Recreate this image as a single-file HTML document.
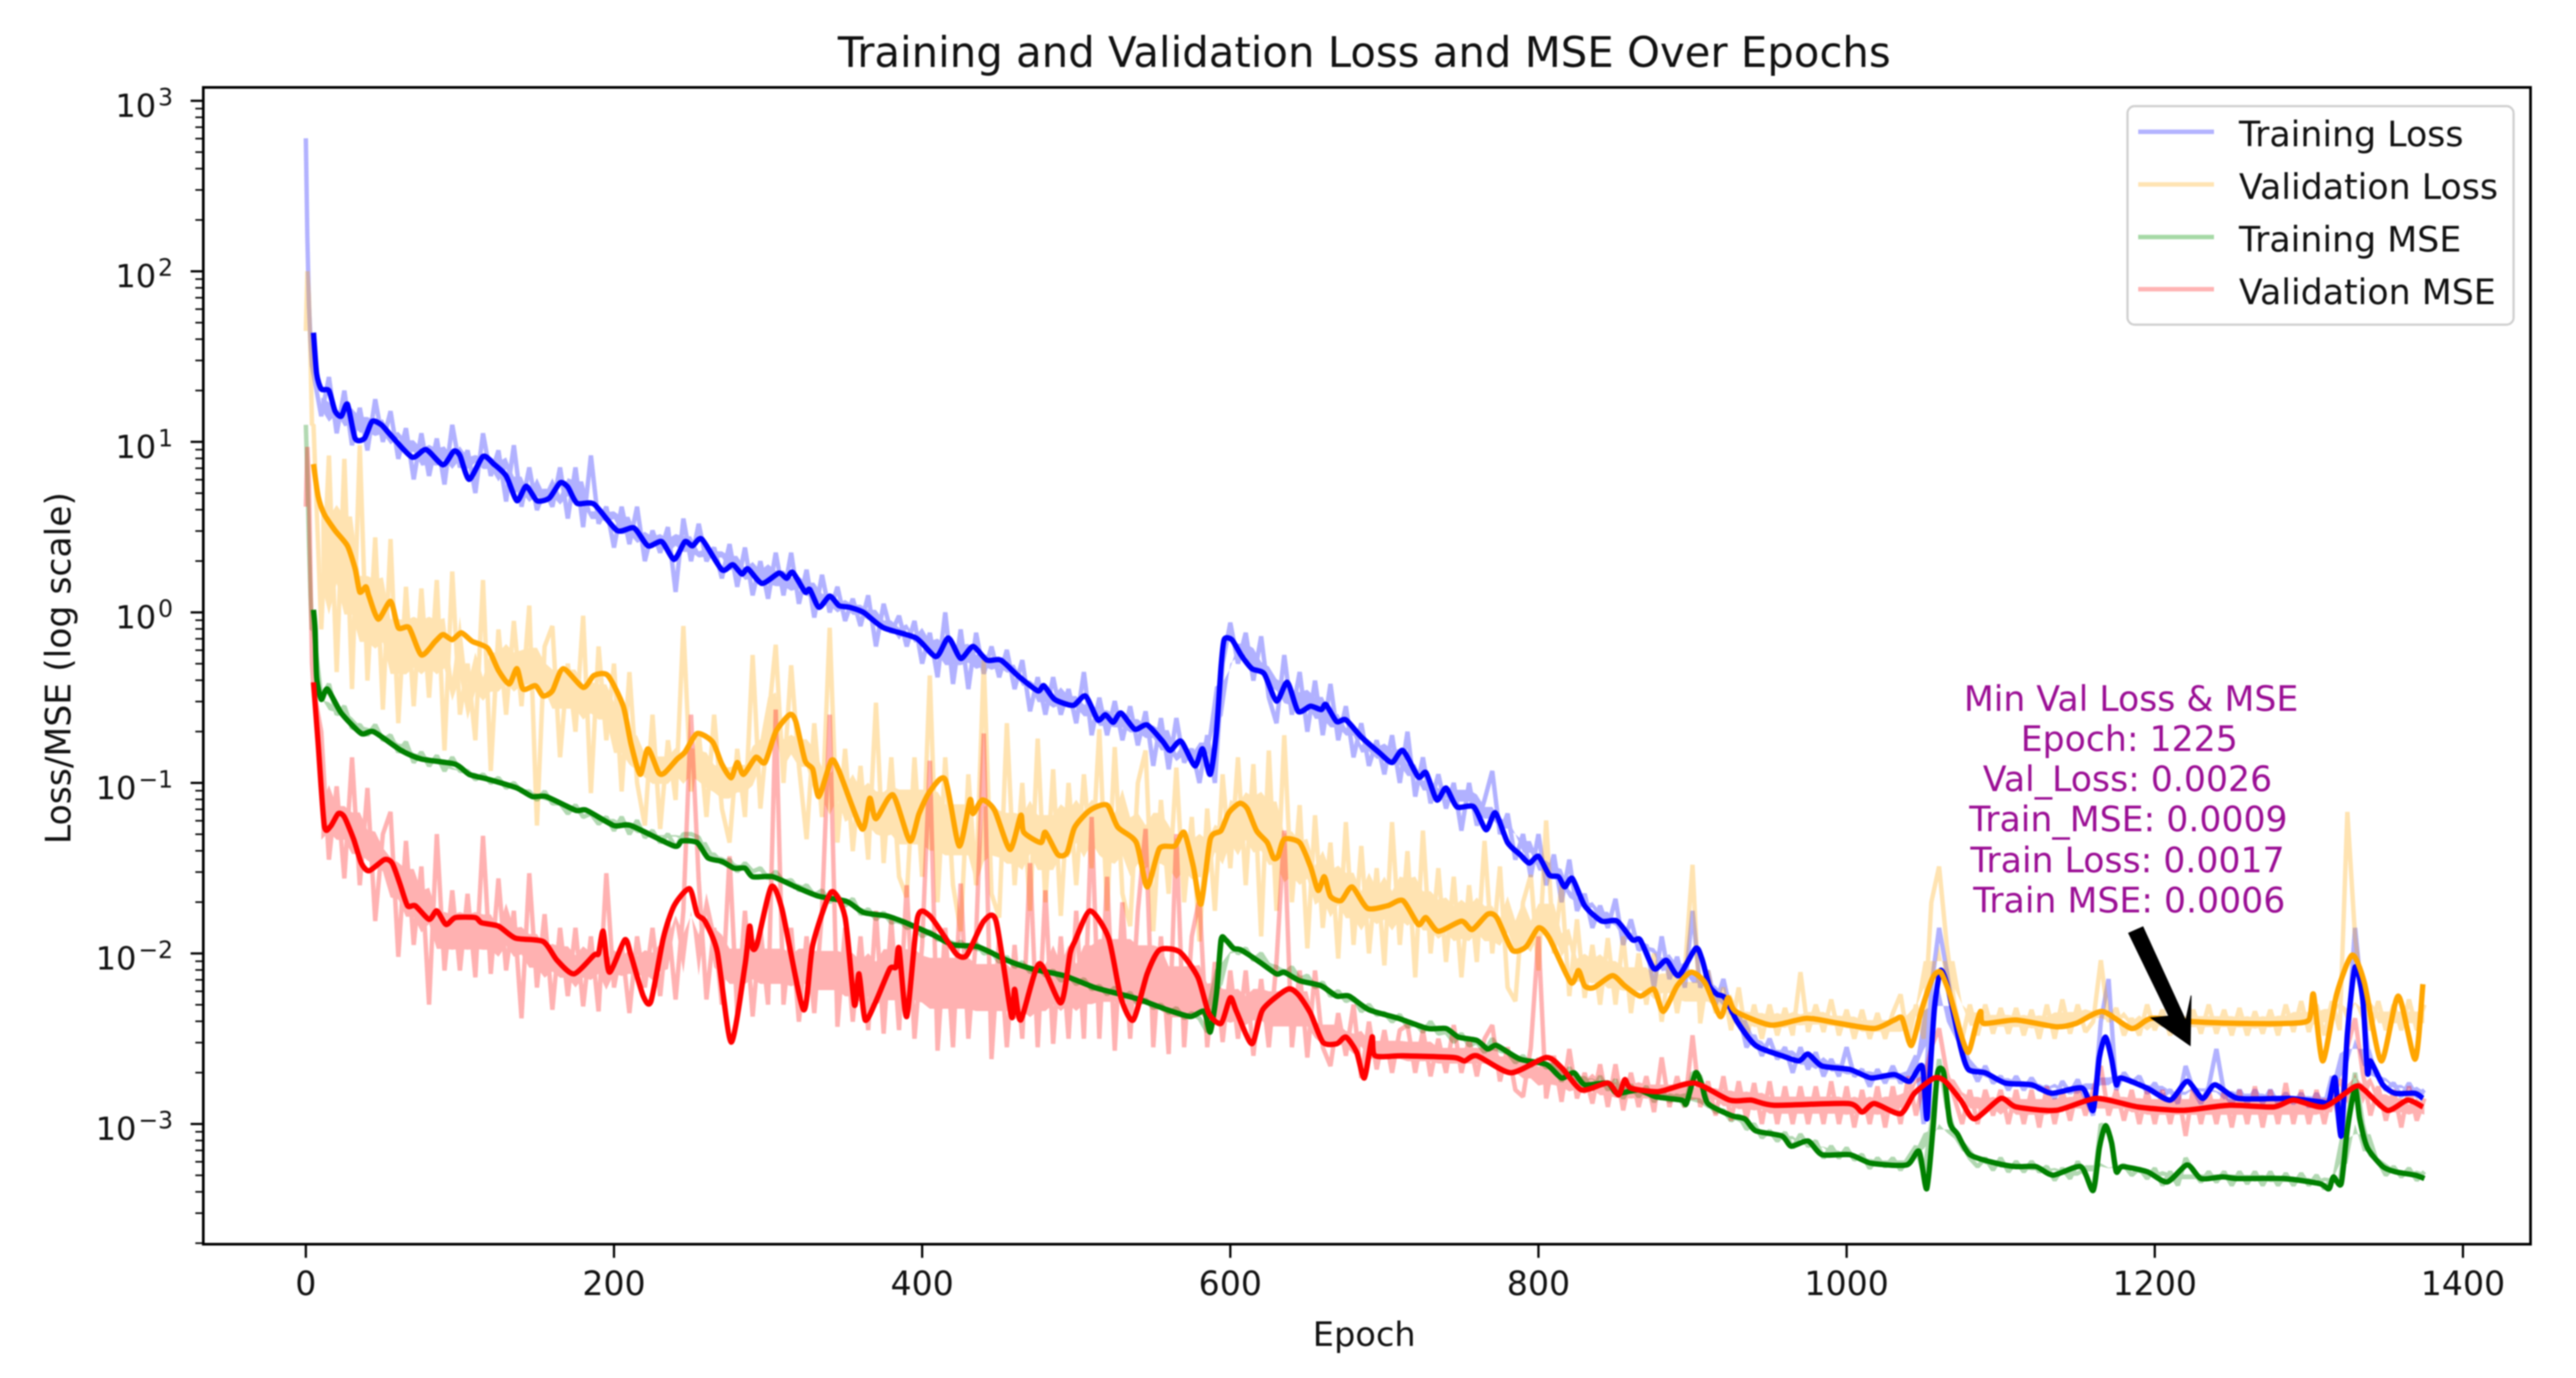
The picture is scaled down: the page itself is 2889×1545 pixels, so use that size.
<!DOCTYPE html>
<html lang="en">
<head>
<meta charset="utf-8">
<title>Training and Validation Loss and MSE Over Epochs</title>
<style>
html,body{margin:0;padding:0;background:#fff;}
svg{display:block;filter:blur(0.8px);font-family:"DejaVu Sans","Liberation Sans",sans-serif;}
</style>
</head>
<body>
<svg id="chart" xmlns="http://www.w3.org/2000/svg" width="2889" height="1545" viewBox="0 0 2889 1545">
<defs><clipPath id="plot-clip"><rect x="228" y="98" width="2610" height="1297"/></clipPath></defs>
<rect x="0" y="0" width="2889" height="1545" fill="#fff"/>
<text x="1530" y="75" font-size="46.9" text-anchor="middle" fill="#111">Training and Validation Loss and MSE Over Epochs</text>
<text x="1530" y="1509" font-size="37.7" text-anchor="middle" fill="#111">Epoch</text>
<text x="0" y="0" transform="translate(79,749) rotate(-90)" font-size="38.8" text-anchor="middle" fill="#111">Loss/MSE (log scale)</text>
<g id="raw" clip-path="url(#plot-clip)"></g>
<g id="smooth" clip-path="url(#plot-clip)"></g>
<g id="axes"></g>
<g font-size="38.9" text-anchor="middle" fill="#9b0f95">
<text x="2390" y="797">Min Val Loss &amp; MSE</text>
<text x="2388" y="842">Epoch: 1225</text>
<text x="2386" y="887">Val_Loss: 0.0026</text>
<text x="2387" y="932">Train_MSE: 0.0009</text>
<text x="2386" y="978">Train Loss: 0.0017</text>
<text x="2388" y="1023">Train MSE: 0.0006</text>
</g>
<polygon id="arrow" fill="#000" stroke="#000" stroke-width="1"/>
<g>
<rect x="2386" y="119" width="433" height="245" rx="8" ry="8" fill="#fff" fill-opacity="0.8" stroke="#d0d0d0" stroke-width="2.5"/>
<line x1="2398" x2="2483" y1="147.7" y2="147.7" stroke="#b3b3ff" stroke-width="5"/>
<text x="2511" y="164" font-size="39" fill="#111">Training Loss</text>
<line x1="2398" x2="2483" y1="206.7" y2="206.7" stroke="#ffe4b3" stroke-width="5"/>
<text x="2511" y="223" font-size="39" fill="#111">Validation Loss</text>
<line x1="2398" x2="2483" y1="265.7" y2="265.7" stroke="#a6d9a6" stroke-width="5"/>
<text x="2511" y="282" font-size="39" fill="#111">Training MSE</text>
<line x1="2398" x2="2483" y1="324.3" y2="324.3" stroke="#ffb3b3" stroke-width="5"/>
<text x="2511" y="341" font-size="39" fill="#111">Validation MSE</text>
</g>
</svg>
<script>
// All series values are log10(loss). Raw series: epochs 0,1,2,3,4 then every 5 epochs from 5 to 1375.
const rawStart = [0,1,2,3,4];
const trainLossRaw = [2.78,2.2,1.8,1.6,1.45,
1.4,1.15,1.38,1.05,1.3,.98,1.2,.95,1.25,1.0,1.18,.9,1.08,.78,1.05,.8,1.02,.75,1.1,.85,
.95,.7,1.05,.8,.95,.65,.98,.62,.85,.6,.72,.62,.85,.55,.85,.5,.92,.52,.62,.38,
.62,.4,.62,.3,.48,.35,.5,.12,.55,.3,.52,.3,.38,.2,.4,.15,.38,.1,.3,.08,
.35,.1,.35,.05,.25,-.03,.22,0,.15,-.05,.08,-.08,.1,-.2,.05,-.12,-.02,-.2,-.05,-.3,
-.12,-.38,0,-.42,-.1,-.45,-.12,-.36,-.2,-.38,-.22,-.45,-.28,-.58,-.38,-.6,-.38,-.6,-.45,-.65,
-.35,-.72,-.5,-.72,-.52,-.75,-.55,-.78,-.58,-.9,-.62,-.92,-.62,-.88,-.8,-1.0,-.72,-1.0,-.3,-.06,
-.3,-.12,-.4,-.14,-.5,-.65,-.25,-.6,-.35,-.7,-.4,-.72,-.42,-.75,-.55,-.85,-.65,-.9,-.75,-.95,
-.72,-1.0,-.7,-1.08,-.85,-1.12,-.95,-1.15,-1.0,-1.28,-1.0,-1.25,-1.1,-.93,-1.3,-1.18,-1.45,-1.3,-1.55,-1.3,
-1.6,-1.42,-1.7,-1.45,-1.75,-1.65,-1.85,-1.72,-1.85,-1.68,-1.95,-1.8,-1.98,-1.95,-2.2,-1.9,-2.15,-2.02,-2.2,-1.75,
-2.2,-2.1,-2.3,-2.15,-2.35,-2.35,-2.55,-2.48,-2.6,-2.5,-2.62,-2.55,-2.7,-2.55,-2.68,-2.58,-2.72,-2.62,-2.72,-2.55,
-2.72,-2.68,-2.78,-2.68,-2.76,-2.66,-2.76,-2.7,-2.6,-3.0,-2.2,-1.85,-2.1,-2.4,-2.6,-2.65,-2.75,-2.66,-2.76,-2.72,
-2.8,-2.72,-2.8,-2.73,-2.8,-2.78,-2.85,-2.75,-2.82,-2.74,-2.85,-2.95,-2.4,-2.15,-2.8,-2.7,-2.76,-2.72,-2.82,-2.76,
-2.84,-2.8,-2.88,-2.66,-2.8,-2.88,-2.78,-2.56,-2.82,-2.88,-2.8,-2.88,-2.8,-2.88,-2.8,-2.88,-2.82,-2.88,-2.82,-2.9,
-2.82,-2.9,-2.72,-3.05,-2.5,-1.85,-2.3,-2.7,-2.72,-2.8,-2.76,-2.84,-2.76,-2.84,-2.8];
const valLossRaw = [1.65,2.0,1.85,1.5,1.1,
1.1,-.1,.92,-.35,.9,-.45,.98,-.4,.44,-.57,.43,-.65,.15,-.55,.14,-.5,.19,-.81,.24,-.6,
-.3,-.75,.19,-.93,-.1,-.6,-.05,-.55,.04,-1.25,-.2,-.08,-.85,-.3,-.7,-.02,-1.06,-.2,-.75,-.3,
-1.05,-.35,-1.0,-1.25,-.6,-1.27,-.75,-1.1,-.08,-1.05,-.7,-1.2,-.6,-1.15,-1.35,-.8,-1.2,-.25,-1.15,-.65,
-.19,-1.0,-.31,-.9,-1.33,-.65,-1.2,-.09,-1.35,-.8,-1.4,-.9,-1.45,-.53,-1.47,-.85,-1.55,-1.67,-.85,-1.55,
-.37,-1.7,-.85,-1.6,-1.87,-.95,-1.6,-.28,-1.65,-1.79,-.65,-1.6,-1.0,-1.75,-.74,-1.7,-.92,-1.78,-1.0,-1.6,
-.95,-1.5,-.685,-1.75,-.79,-1.65,-1.84,-1.0,-.81,-1.87,-1.1,-1.65,-.91,-1.7,-1.2,-1.93,-1.15,-1.75,-.95,-1.5,
-.85,-1.6,-.89,-1.9,-.81,-1.75,-.72,-1.7,-1.13,-1.97,-1.19,-1.85,-1.35,-2.03,-1.23,-1.95,-1.37,-2.0,-1.5,-2.07,
-1.23,-1.95,-1.4,-2.14,-1.28,-2.0,-1.5,-2.05,-1.55,-2.14,-1.6,-2.05,-1.34,-2.0,-1.49,-2.2,-2.28,-1.7,-1.54,-2.1,
-1.22,-2.0,-1.6,-2.25,-1.8,-2.26,-1.95,-2.3,-1.91,-2.3,-1.9,-2.35,-2.0,-2.3,-2.0,-2.4,-2.05,-2.35,-2.1,-1.48,
-2.41,-2.1,-2.35,-2.2,-2.45,-2.2,-2.5,-2.3,-2.5,-2.3,-2.48,-2.32,-2.48,-2.11,-2.46,-2.3,-2.46,-2.27,-2.48,-2.33,
-2.5,-2.33,-2.5,-2.35,-2.5,-2.35,-2.24,-2.52,-2.3,-2.5,-1.7,-1.49,-1.95,-2.3,-2.5,-2.3,-2.48,-2.3,-2.47,-2.32,
-2.47,-2.32,-2.48,-2.33,-2.5,-2.3,-2.5,-2.27,-2.47,-2.3,-2.46,-2.4,-2.04,-2.4,-2.32,-2.48,-2.38,-2.48,-2.3,-2.45,
-2.33,-2.48,-2.32,-2.47,-2.33,-2.47,-2.3,-2.47,-2.33,-2.48,-2.32,-2.48,-2.34,-2.47,-2.33,-2.48,-2.3,-2.46,-2.28,-2.46,
-2.3,-2.48,-2.28,-2.45,-1.17,-1.9,-2.3,-2.45,-2.28,-2.45,-2.3,-2.45,-2.27,-2.45,-2.3];
const trainMseRaw = [1.1,.8,.4,.1,-.1,
-.1,-.5,-.42,-.6,-.55,-.68,-.66,-.72,-.66,-.75,-.72,-.82,-.76,-.88,-.82,-.9,-.84,-.93,-.85,-.93,
-.93,-.98,-.95,-1.0,-.97,-1.03,-1.0,-1.05,-1.05,-1.1,-1.05,-1.12,-1.12,-1.18,-1.13,-1.2,-1.18,-1.24,-1.2,-1.28,
-1.2,-1.3,-1.22,-1.32,-1.28,-1.35,-1.3,-1.38,-1.3,-1.3,-1.32,-1.42,-1.42,-1.47,-1.45,-1.52,-1.47,-1.52,-1.5,-1.56,
-1.52,-1.58,-1.57,-1.63,-1.6,-1.66,-1.63,-1.7,-1.66,-1.72,-1.68,-1.77,-1.74,-1.8,-1.76,-1.82,-1.8,-1.85,-1.84,-1.9,
-1.87,-1.92,-1.9,-1.97,-1.93,-1.98,-1.94,-2.0,-1.99,-2.05,-2.02,-2.08,-2.05,-2.11,-2.08,-2.13,-2.1,-2.16,-2.13,-2.18,
-2.15,-2.21,-2.19,-2.24,-2.2,-2.26,-2.23,-2.3,-2.27,-2.32,-2.3,-2.35,-2.32,-2.38,-2.35,-2.38,-2.46,-2.26,-1.9,-1.94,
-2.0,-1.97,-2.04,-2.0,-2.07,-2.08,-2.12,-2.08,-2.15,-2.13,-2.2,-2.17,-2.25,-2.22,-2.28,-2.26,-2.34,-2.3,-2.36,-2.35,
-2.4,-2.36,-2.43,-2.41,-2.46,-2.4,-2.47,-2.46,-2.52,-2.47,-2.54,-2.52,-2.58,-2.5,-2.57,-2.58,-2.64,-2.6,-2.66,-2.62,
-2.67,-2.65,-2.75,-2.67,-2.74,-2.73,-2.8,-2.72,-2.8,-2.74,-2.85,-2.77,-2.84,-2.78,-2.87,-2.8,-2.87,-2.83,-2.9,-2.7,
-2.72,-2.88,-2.93,-2.92,-2.98,-2.95,-3.03,-3.0,-3.08,-3.04,-3.1,-3.05,-3.14,-3.06,-3.13,-3.1,-3.2,-3.13,-3.2,-3.14,
-3.21,-3.18,-3.26,-3.2,-3.25,-3.2,-3.27,-3.2,-3.13,-3.3,-3.0,-2.62,-2.9,-3.05,-3.12,-3.2,-3.25,-3.2,-3.27,-3.2,
-3.28,-3.22,-3.28,-3.22,-3.28,-3.25,-3.33,-3.26,-3.32,-3.22,-3.3,-3.38,-3.0,-3.05,-3.26,-3.24,-3.3,-3.26,-3.32,-3.26,
-3.36,-3.28,-3.36,-3.2,-3.28,-3.34,-3.28,-3.34,-3.28,-3.36,-3.28,-3.35,-3.28,-3.36,-3.28,-3.36,-3.29,-3.36,-3.29,-3.36,
-3.3,-3.38,-3.32,-3.35,-2.98,-2.7,-3.0,-3.18,-3.22,-3.3,-3.25,-3.31,-3.26,-3.33,-3.28];
const valMseRaw = [.62,.97,.75,.2,-.3,
-.45,-.7,-1.45,-1.02,-1.56,-.85,-1.6,-1.03,-1.81,-1.3,-1.17,-2.02,-1.34,-1.95,-1.49,-2.30,-1.3,-2.1,-1.63,-2.1,
-1.65,-2.14,-1.31,-2.12,-1.56,-2.1,-1.75,-2.38,-1.53,-2.2,-1.77,-2.33,-1.85,-2.25,-1.85,-2.31,-1.9,-2.34,-1.53,-2.2,
-1.95,-2.35,-1.9,-2.2,-1.85,-2.25,-1.8,-2.27,-1.75,-.6,-1.57,-2.27,-1.85,-2.3,-1.43,-2.35,-1.75,-2.37,-1.85,-2.3,
-.57,-2.3,-1.85,-2.4,-1.9,-2.35,-1.75,-.6,-2.43,-1.85,-2.4,-1.9,-2.45,-1.75,-2.47,-1.8,-2.45,-1.6,-2.5,-1.95,
-.87,-2.57,-1.85,-2.55,-1.59,-2.5,-1.9,-.71,-2.62,-1.9,-2.55,-1.95,-2.5,-1.47,-2.55,-1.63,-2.53,-1.9,-2.5,-1.75,
-2.5,-1.2,-2.5,-1.55,-2.57,-1.7,-2.5,-1.75,-1.27,-2.55,-1.9,-2.59,-1.3,-2.55,-1.9,-1.68,-2.55,-2.05,-2.52,-2.1,
-2.5,-2.1,-2.6,-2.15,-2.55,-2.05,-1.28,-2.55,-2.1,-2.61,-2.1,-2.55,-2.66,-2.35,-2.6,-2.3,-2.73,-2.4,-2.68,-2.45,
-2.7,-2.45,-2.42,-2.7,-2.45,-2.72,-2.5,-2.7,-2.42,-2.7,-2.5,-2.72,-2.5,-2.42,-2.75,-2.55,-2.8,-2.84,-2.55,-1.9,
-2.85,-2.6,-2.87,-2.56,-2.85,-2.7,-2.88,-2.65,-2.9,-2.65,-2.92,-2.7,-2.9,-2.72,-2.93,-2.61,-2.9,-2.72,-2.9,-2.48,
-2.9,-2.75,-2.95,-2.72,-2.98,-2.75,-2.97,-2.76,-3.0,-2.75,-3.0,-2.78,-3.0,-2.78,-3.0,-2.78,-3.0,-2.75,-3.0,-2.78,
-3.02,-2.8,-3.0,-2.78,-3.02,-2.78,-3.0,-2.72,-2.95,-2.75,-2.55,-2.44,-2.7,-2.85,-3.0,-2.8,-3.0,-2.8,-2.95,-2.8,
-3.0,-2.8,-3.0,-2.8,-3.02,-2.78,-3.0,-2.8,-2.98,-2.78,-2.95,-2.8,-2.66,-2.95,-2.8,-2.98,-2.8,-3.0,-2.8,-3.0,
-2.8,-3.0,-2.8,-3.07,-2.78,-3.0,-2.8,-3.0,-2.8,-3.02,-2.8,-3.0,-2.78,-3.02,-2.8,-3.0,-2.76,-3.0,-2.8,-3.0,
-2.8,-3.0,-2.8,-2.98,-2.55,-2.38,-2.7,-2.95,-2.78,-2.98,-2.8,-3.02,-2.78,-2.98,-2.85];

const trainLossEpochs = [5,7,10,15,19,23,27,32,38,43,49,56,69,78,89,96,100,106,115,122,130,137,143,150,158,165,170,176,187,202,213,222,231,239,246,251,257,270,277,283,287,296,307,312,316,324,327,333,340,346,353,362,375,396,409,417,425,433,442,451,462,475,479,486,498,506,514,519,524,529,538,546,556,561,568,577,582,587,591,594,596,601,607,614,622,630,637,644,652,659,662,669,675,685,697,705,712,722,727,734,740,747,758,766,772,780,788,794,800,807,813,817,822,830,841,851,861,866,875,883,891,902,906,911,916,921,929,941,958,969,975,984,1002,1016,1031,1041,1049,1052,1054,1057,1061,1066,1074,1079,1090,1103,1120,1133,1153,1160,1164,1168,1172,1175,1178,1195,1210,1221,1231,1239,1254,1287,1307,1313,1317,1321,1325,1330,1335,1338,1340,1348,1356,1369,1374];
const trainLossSmooth = [1.64,1.40,1.31,1.30,1.18,1.15,1.22,1.02,1.02,1.12,1.10,1.03,.91,.955,.865,.945,.92,.78,.915,.87,.80,.655,.74,.655,.67,.76,.735,.64,.635,.48,.495,.39,.415,.31,.415,.39,.43,.25,.28,.225,.255,.17,.23,.20,.235,.12,.135,.03,.095,.04,.03,0,-.09,-.15,-.26,-.15,-.27,-.20,-.28,-.28,-.37,-.46,-.43,-.51,-.545,-.49,-.63,-.60,-.645,-.59,-.685,-.66,-.755,-.81,-.755,-.90,-.80,-.95,-.70,-.32,-.16,-.16,-.25,-.33,-.36,-.52,-.41,-.58,-.55,-.57,-.54,-.64,-.63,-.73,-.825,-.88,-.81,-.965,-.94,-1.10,-1.03,-1.14,-1.14,-1.275,-1.175,-1.35,-1.42,-1.47,-1.43,-1.54,-1.55,-1.61,-1.56,-1.72,-1.81,-1.81,-1.92,-1.92,-2.09,-2.04,-2.13,-1.97,-2.03,-2.19,-2.24,-2.26,-2.40,-2.54,-2.60,-2.63,-2.59,-2.66,-2.68,-2.73,-2.71,-2.75,-2.66,-2.97,-2.72,-2.32,-2.10,-2.21,-2.55,-2.68,-2.70,-2.76,-2.77,-2.82,-2.79,-2.92,-2.61,-2.49,-2.62,-2.77,-2.73,-2.79,-2.86,-2.75,-2.85,-2.77,-2.85,-2.85,-2.87,-2.87,-2.73,-3.07,-2.47,-2.08,-2.27,-2.70,-2.63,-2.77,-2.82,-2.82,-2.85];

const valLossEpochs = [5,8,12,19,27,32,35,39,41,47,55,60,67,75,84,89,95,101,108,118,125,132,137,141,149,154,160,167,180,187,196,206,211,217,222,229,233,241,246,254,264,270,276,280,284,292,298,305,314,318,324,329,333,341,346,361,366,370,381,392,398,405,415,424,431,433,439,447,457,464,466,477,480,488,494,499,509,520,527,539,546,554,564,570,576,581,587,594,599,606,611,617,624,628,631,635,645,652,657,661,665,672,679,689,702,712,722,727,735,750,757,767,773,783,792,800,807,821,826,830,836,848,856,866,875,881,890,899,908,918,923,928,951,974,995,1018,1031,1036,1042,1049,1056,1061,1067,1074,1079,1084,1087,1089,1110,1136,1149,1166,1185,1198,1225,1254,1287,1300,1303,1309,1318,1328,1336,1347,1358,1369,1374];
const valLossSmooth = [.87,.68,.575,.48,.39,.255,.12,.15,.095,-.04,.065,-.09,-.09,-.25,-.17,-.13,-.16,-.12,-.17,-.21,-.34,-.42,-.33,-.45,-.43,-.49,-.46,-.33,-.44,-.37,-.37,-.55,-.77,-.95,-.80,-.94,-.94,-.86,-.82,-.71,-.76,-.89,-.97,-.88,-.95,-.85,-.88,-.70,-.60,-.64,-.87,-.92,-1.08,-.87,-.93,-1.27,-1.09,-1.21,-1.07,-1.34,-1.18,-1.05,-.98,-1.37,-1.10,-1.18,-1.10,-1.16,-1.39,-1.19,-1.29,-1.35,-1.29,-1.42,-1.41,-1.26,-1.16,-1.13,-1.26,-1.35,-1.61,-1.385,-1.37,-1.29,-1.49,-1.71,-1.33,-1.28,-1.175,-1.12,-1.15,-1.28,-1.35,-1.44,-1.43,-1.33,-1.35,-1.49,-1.63,-1.55,-1.665,-1.69,-1.61,-1.735,-1.72,-1.69,-1.83,-1.79,-1.87,-1.81,-1.86,-1.77,-1.79,-1.98,-1.96,-1.85,-1.91,-2.17,-2.10,-2.19,-2.20,-2.13,-2.19,-2.25,-2.21,-2.34,-2.19,-2.11,-2.17,-2.37,-2.26,-2.34,-2.42,-2.38,-2.41,-2.44,-2.39,-2.38,-2.54,-2.32,-2.14,-2.11,-2.24,-2.47,-2.58,-2.42,-2.34,-2.41,-2.39,-2.43,-2.41,-2.34,-2.44,-2.38,-2.40,-2.41,-2.41,-2.39,-2.24,-2.63,-2.24,-2.01,-2.17,-2.63,-2.25,-2.62,-2.18];

const trainMseEpochs = [5,6,7,10,14,23,36,44,62,75,97,106,119,137,147,156,175,182,200,211,239,244,254,261,270,278,285,290,303,318,333,351,362,377,388,407,420,436,455,471,492,512,529,541,559,574,583,587,591,594,597,602,607,619,630,635,645,659,669,677,690,709,728,740,748,760,767,773,788,805,815,823,830,845,851,865,876,893,896,902,906,910,925,934,941,958,964,975,984,1002,1016,1039,1047,1052,1056,1059,1063,1067,1072,1080,1097,1110,1123,1134,1152,1160,1164,1168,1172,1175,1179,1195,1208,1221,1230,1244,1254,1284,1307,1313,1316,1321,1325,1330,1333,1338,1348,1356,1369,1375];
const trainMseSmooth = [.015,-.1,-.38,-.51,-.45,-.59,-.71,-.70,-.81,-.86,-.89,-.95,-.98,-1.03,-1.08,-1.08,-1.16,-1.16,-1.25,-1.25,-1.37,-1.34,-1.35,-1.44,-1.46,-1.50,-1.50,-1.55,-1.55,-1.61,-1.665,-1.695,-1.76,-1.78,-1.815,-1.89,-1.95,-1.96,-2.04,-2.09,-2.13,-2.20,-2.24,-2.27,-2.33,-2.37,-2.34,-2.46,-2.24,-1.92,-1.92,-1.97,-1.98,-2.05,-2.12,-2.11,-2.16,-2.19,-2.25,-2.25,-2.33,-2.38,-2.44,-2.44,-2.49,-2.51,-2.56,-2.54,-2.62,-2.65,-2.73,-2.70,-2.77,-2.76,-2.82,-2.80,-2.84,-2.86,-2.88,-2.70,-2.77,-2.88,-2.95,-2.97,-3.04,-3.07,-3.13,-3.10,-3.18,-3.18,-3.23,-3.24,-3.16,-3.38,-3.03,-2.70,-2.70,-2.99,-3.06,-3.18,-3.23,-3.25,-3.25,-3.30,-3.25,-3.39,-3.14,-3.01,-3.11,-3.28,-3.25,-3.28,-3.34,-3.24,-3.32,-3.31,-3.32,-3.32,-3.35,-3.38,-3.31,-3.35,-3.03,-2.79,-2.97,-3.14,-3.25,-3.28,-3.30,-3.32];

const valMseEpochs = [5,8,12,16,21,25,31,36,41,51,56,61,66,71,80,85,91,97,110,114,125,136,154,163,174,187,190,193,197,207,211,219,224,232,239,249,254,259,267,276,285,288,290,293,302,309,323,329,341,350,356,359,363,370,379,383,385,390,397,405,418,423,429,440,448,458,460,464,476,490,496,499,509,521,529,537,546,554,567,579,586,594,600,604,614,621,637,644,652,660,669,675,682,687,692,694,712,745,752,760,782,805,815,828,845,852,856,860,878,901,924,938,953,1001,1010,1018,1035,1044,1057,1064,1074,1083,1100,1110,1136,1162,1189,1218,1248,1277,1290,1310,1330,1336,1351,1364,1374];
const valMseSmooth = [-.41,-.77,-1.25,-1.255,-1.18,-1.20,-1.33,-1.47,-1.515,-1.45,-1.47,-1.59,-1.72,-1.72,-1.80,-1.75,-1.83,-1.79,-1.79,-1.82,-1.84,-1.91,-1.93,-2.04,-2.12,-2.01,-2.00,-1.87,-2.11,-1.92,-2.01,-2.25,-2.28,-1.91,-1.72,-1.62,-1.77,-1.81,-1.99,-2.52,-2.07,-1.84,-1.97,-1.94,-1.61,-1.74,-2.33,-1.95,-1.64,-1.79,-2.30,-2.12,-2.39,-2.28,-2.09,-2.08,-1.97,-2.37,-1.79,-1.78,-1.95,-2.01,-2.01,-1.81,-1.81,-2.37,-2.21,-2.39,-2.06,-2.29,-2.0,-1.93,-1.75,-1.91,-2.26,-2.39,-2.12,-1.98,-1.99,-2.14,-2.35,-2.41,-2.26,-2.34,-2.53,-2.33,-2.21,-2.24,-2.35,-2.52,-2.53,-2.49,-2.58,-2.73,-2.49,-2.60,-2.60,-2.61,-2.63,-2.60,-2.70,-2.61,-2.67,-2.80,-2.76,-2.83,-2.74,-2.79,-2.81,-2.76,-2.86,-2.86,-2.89,-2.88,-2.93,-2.88,-2.94,-2.82,-2.73,-2.75,-2.86,-2.97,-2.85,-2.90,-2.92,-2.85,-2.90,-2.92,-2.89,-2.90,-2.86,-2.90,-2.78,-2.80,-2.92,-2.86,-2.90];

const xTickValues = [0,200,400,600,800,1000,1200,1400];
const yTickExponents = [3,2,1,0,-1,-2,-3];
const yMinorDecades = [2,1,0,-1,-2,-3,-4];
const yMinorFactors = [2,3,4,5,6,7,8,9];
const annotatedEpoch = 1223;
const annotatedLogValue = -2.54;

const SVGNS = 'http://www.w3.org/2000/svg';
const X_ORIGIN = 343, X_PER_EPOCH = 1.728, Y_TOP_LOG = 3, Y_TOP_PX = 113, Y_PER_DECADE = 191.2;
const PLOT_LEFT = 228, PLOT_RIGHT = 2838, PLOT_TOP = 98, PLOT_BOTTOM = 1395;
const BAND_SHRINK = 0.27;
function xScale(e){ return X_ORIGIN + e * X_PER_EPOCH; }
function yScale(lg){ return Y_TOP_PX + (Y_TOP_LOG - lg) * Y_PER_DECADE; }
function rawEpochAt(i){ return i < rawStart.length ? rawStart[i] : (i - rawStart.length + 1) * 5; }
function rawPath(values){
  let d = '';
  for (let i = 0; i < values.length; i++) {
    d += (i ? 'L' : 'M') + xScale(rawEpochAt(i)).toFixed(1) + ' ' + yScale(values[i]).toFixed(1);
  }
  return d;
}
// Dense core of a noisy series: a narrowed band between the typical lows and typical highs around each sample.
function coreBandPath(values){
  const first = rawStart.length + 1;
  const upper = [], lower = [];
  for (let i = first; i < values.length; i++) {
    const win = values.slice(Math.max(first, i - 3), Math.min(values.length, i + 4)).sort(function(a, b){ return a - b; });
    const local = values.slice(i - 1, i + 2);
    const q35 = win[Math.round((win.length - 1) * 0.35)];
    const q65 = win[Math.round((win.length - 1) * 0.65)];
    const inset = (q65 - q35) * BAND_SHRINK;
    const hi = Math.min(q65 - inset, Math.max.apply(null, local));
    const lo = Math.max(q35 + inset, Math.min.apply(null, local));
    const x = xScale(rawEpochAt(i)).toFixed(1);
    upper.push(x + ' ' + yScale(hi).toFixed(1));
    lower.unshift(x + ' ' + yScale(lo).toFixed(1));
  }
  return 'M' + upper.join('L') + 'L' + lower.join('L') + 'Z';
}
function curvePath(epochs, values){
  const px = epochs.map(function(e, i){ return [xScale(e), yScale(values[i])]; });
  const k = 0.7 / 6;
  let d = 'M' + px[0][0].toFixed(1) + ' ' + px[0][1].toFixed(1);
  for (let i = 0; i < px.length - 1; i++) {
    const p0 = px[Math.max(0, i - 1)], p1 = px[i], p2 = px[i + 1], p3 = px[Math.min(px.length - 1, i + 2)];
    d += 'C' + (p1[0] + (p2[0] - p0[0]) * k).toFixed(1) + ' ' + (p1[1] + (p2[1] - p0[1]) * k).toFixed(1) + ' '
       + (p2[0] - (p3[0] - p1[0]) * k).toFixed(1) + ' ' + (p2[1] - (p3[1] - p1[1]) * k).toFixed(1) + ' '
       + p2[0].toFixed(1) + ' ' + p2[1].toFixed(1);
  }
  return d;
}
function addRaw(name, values, color){
  const g = document.createElementNS(SVGNS, 'g');
  
  
  g.setAttribute('opacity', '0.3');
  const band = document.createElementNS(SVGNS, 'path');
  
  
  band.setAttribute('d', coreBandPath(values));
  band.setAttribute('fill', color);
  g.appendChild(band);
  const p = document.createElementNS(SVGNS, 'path');
  
  
  p.setAttribute('d', rawPath(values));
  p.setAttribute('fill', 'none');
  p.setAttribute('stroke', color);
  p.setAttribute('stroke-width', '5');
  p.setAttribute('stroke-linejoin', 'bevel');
  g.appendChild(p);
  document.getElementById('raw').appendChild(g);
}
function addSmooth(name, epochs, values, color){
  const p = document.createElementNS(SVGNS, 'path');
  
  
  p.setAttribute('d', curvePath(epochs, values));
  p.setAttribute('fill', 'none');
  p.setAttribute('stroke', color);
  p.setAttribute('stroke-width', '6');
  p.setAttribute('stroke-linejoin', 'round');
  document.getElementById('smooth').appendChild(p);
}
addRaw('training-loss', trainLossRaw, '#0000ff');
addRaw('validation-loss', valLossRaw, '#ffa500');
addRaw('training-mse', trainMseRaw, '#008000');
addRaw('validation-mse', valMseRaw, '#ff0000');
addSmooth('training-loss', trainLossEpochs, trainLossSmooth, '#0000ff');
addSmooth('validation-loss', valLossEpochs, valLossSmooth, '#ffa500');
addSmooth('training-mse', trainMseEpochs, trainMseSmooth, '#008000');
addSmooth('validation-mse', valMseEpochs, valMseSmooth, '#ff0000');

const axesG = document.getElementById('axes');
function addLine(name, x1, y1, x2, y2, w){
  const l = document.createElementNS(SVGNS, 'line');
  
  
  l.setAttribute('x1', x1); l.setAttribute('y1', y1);
  l.setAttribute('x2', x2); l.setAttribute('y2', y2);
  l.setAttribute('stroke', '#000');
  l.setAttribute('stroke-width', w);
  l.setAttribute('stroke-linecap', 'square');
  axesG.appendChild(l);
}
addLine('axis-spine-left', PLOT_LEFT, PLOT_TOP, PLOT_LEFT, PLOT_BOTTOM, 3);
addLine('axis-spine-right', PLOT_RIGHT, PLOT_TOP, PLOT_RIGHT, PLOT_BOTTOM, 3);
addLine('axis-spine-top', PLOT_LEFT, PLOT_TOP, PLOT_RIGHT, PLOT_TOP, 3);
addLine('axis-spine-bottom', PLOT_LEFT, PLOT_BOTTOM, PLOT_RIGHT, PLOT_BOTTOM, 3);
xTickValues.forEach(function(v){
  const x = xScale(v);
  addLine('x-tick-mark', x, PLOT_BOTTOM, x, PLOT_BOTTOM + 14, 2.5);
  const t = document.createElementNS(SVGNS, 'text');
  
  
  t.setAttribute('x', x);
  t.setAttribute('y', 1452);
  t.setAttribute('font-size', '37.2');
  t.setAttribute('text-anchor', 'middle');
  t.setAttribute('fill', '#111');
  t.textContent = String(v);
  axesG.appendChild(t);
});
yTickExponents.forEach(function(ex){
  const y = yScale(ex);
  addLine('y-major-tick-mark', PLOT_LEFT - 13, y, PLOT_LEFT, y, 2.5);
  const t = document.createElementNS(SVGNS, 'text');
  
  
  t.setAttribute('x', 194);
  t.setAttribute('y', y + 18);
  t.setAttribute('font-size', '36');
  t.setAttribute('text-anchor', 'end');
  t.setAttribute('fill', '#111');
  t.textContent = '10';
  const s = document.createElementNS(SVGNS, 'tspan');
  
  
  s.setAttribute('dy', '-13');
  s.setAttribute('dx', '2');
  s.setAttribute('font-size', '26.4');
  s.textContent = String(ex).replace('-', '\u2212');
  t.appendChild(s);
  axesG.appendChild(t);
});
yMinorDecades.forEach(function(dec){
  yMinorFactors.forEach(function(f){
    const y = yScale(dec + Math.log10(f));
    if (y < PLOT_TOP || y > PLOT_BOTTOM) return;
    addLine('y-minor-tick-mark', PLOT_LEFT - 8, y, PLOT_LEFT, y, 1.8);
  });
});

const tipX = xScale(annotatedEpoch), tipY = yScale(annotatedLogValue);
const arrowOffsets = [[0,0],[-44,-31],[-24,-33],[-69,-126],[-53,-133],[-5,-28],[1,-56]];
document.getElementById('arrow').setAttribute('points', arrowOffsets.map(o => (tipX + o[0]).toFixed(1) + ',' + (tipY + o[1]).toFixed(1)).join(' '));
</script>
</body>
</html>
